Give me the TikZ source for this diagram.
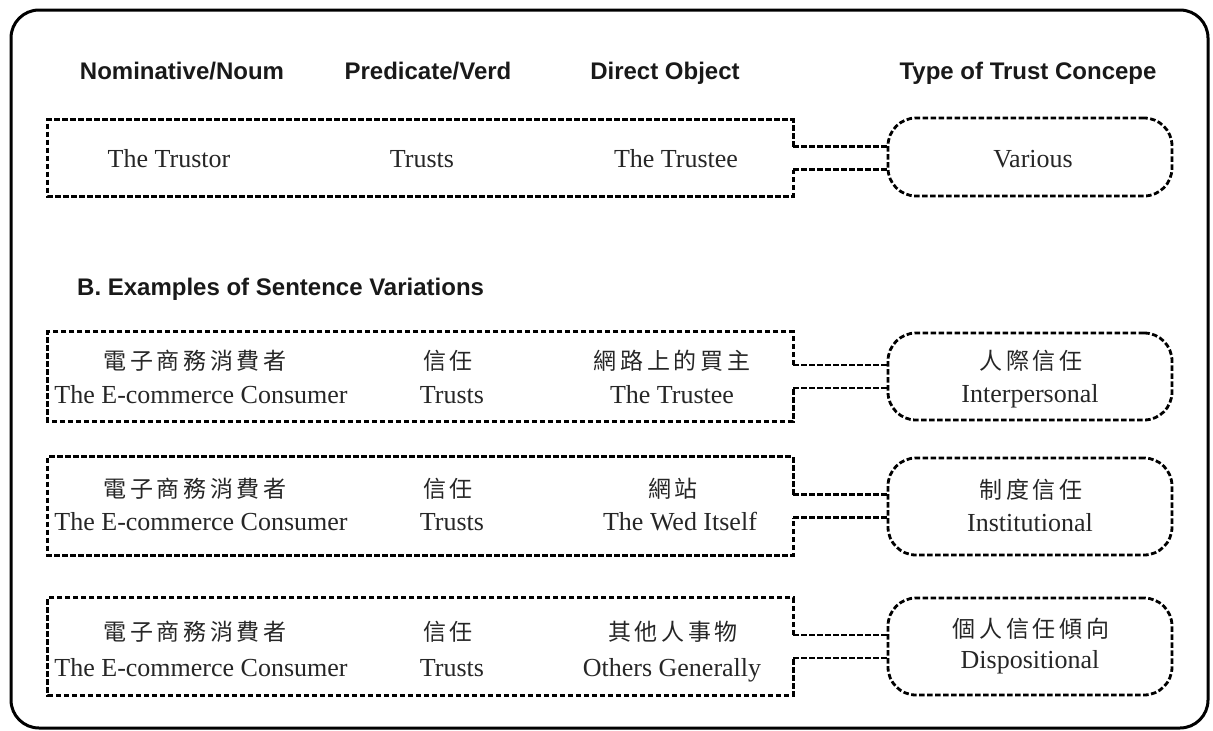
\documentclass[tikz,border=0pt]{standalone}
\usepackage{fontspec}
\setmainfont{Liberation Serif}
\newfontfamily\hdrfont{Liberation Sans}
\newfontfamily\cjk[LetterSpace=16]{Noto Sans CJK TC}
\usetikzlibrary{calc}
\begin{document}
\begin{tikzpicture}[x=1pt,y=-1pt,
  frame/.style={line width=3pt, rounded corners=28pt},
  dbox/.style={line width=2.8pt, dash pattern=on 5.5pt off 2.5pt, black},
  hdr/.style={font=\hdrfont\bfseries\fontsize{24}{28}\selectfont, anchor=base, inner sep=0, text=black!90},
  en/.style={font=\fontsize{26}{30}\selectfont, anchor=base, inner sep=0, text=black!85},
  zh/.style={font=\cjk\fontsize{23}{26}\selectfont, inner sep=0, text=black!85},
  hole/.style={inner sep=0, minimum width=745pt},
  pill/.style={dbox, draw, rounded corners=28pt, inner sep=0, minimum width=284pt},
]
\useasboundingbox (0,0) rectangle (1213,731);
\draw[frame] (11,10) rectangle (1208,728);

% headers
\node[hdr] (h1) at (182,79) {Nominative/Noum};
\node[hdr] (h2) at (428,79) {Predicate/Verd};
\node[hdr] (h3) at (665,79) {Direct Object};
\node[hdr] (h4) at (1028,79) {Type of Trust Concepe};
\node[hdr, anchor=base west] (hb) at (77,295) {B. Examples of Sentence Variations};

% boxes and connectors
\foreach \n/\yc/\h/\rc/\rh in {0/158/76/157/78, 1/376.5/89/376.5/87, 2/506/98/506.5/97, 3/646.5/97/646.5/97}{
  \node[hole, minimum height=\h pt] (L\n) at (420.5,\yc) {};
  \node[pill, minimum height=\rh pt] (R\n) at (1030,\rc) {};
  \coordinate (L\n a) at ($(L\n.east)+(0,-11.5)$);
  \coordinate (L\n b) at ($(L\n.east)+(0,11.5)$);
  \draw[dbox] (L\n a) -- (L\n.north east) -- (L\n.north west) -- (L\n.south west) -- (L\n.south east) -- (L\n b);
  \draw[dbox] (L\n a) -- (L\n a -| R\n.west);
  \draw[dbox] (L\n b) -- (L\n b -| R\n.west);
}

% row 0
\node[en] (a0) at (169,167) {The Trustor};
\node[en] (b0) at (422,167) {Trusts};
\node[en] (c0) at (676,167) {The Trustee};
\node[en] (d0) at (1033,167) {Various};

% row 1
\node[zh] (a1z) at (195,361) {電子商務消費者};
\node[en] (a1) at (201,403) {The E-commerce Consumer};
\node[zh] (b1z) at (448,361) {信任};
\node[en] (b1) at (452,403) {Trusts};
\node[zh] (c1z) at (672,361) {網路上的買主};
\node[en] (c1) at (672,403) {The Trustee};
\node[zh] (d1z) at (1031,361) {人際信任};
\node[en] (d1) at (1030,402) {Interpersonal};

% row 2
\node[zh] (a2z) at (195,489) {電子商務消費者};
\node[en] (a2) at (201,530) {The E-commerce Consumer};
\node[zh] (b2z) at (448,489) {信任};
\node[en] (b2) at (452,530) {Trusts};
\node[zh] (c2z) at (673,489) {網站};
\node[en] (c2) at (680,530) {The Wed Itself};
\node[zh] (d2z) at (1031,490) {制度信任};
\node[en] (d2) at (1030,531) {Institutional};

% row 3
\node[zh] (a3z) at (195,632) {電子商務消費者};
\node[en] (a3) at (201,676) {The E-commerce Consumer};
\node[zh] (b3z) at (448,632) {信任};
\node[en] (b3) at (452,676) {Trusts};
\node[zh] (c3z) at (673,632) {其他人事物};
\node[en] (c3) at (672,676) {Others Generally};
\node[zh] (d3z) at (1031,629) {個人信任傾向};
\node[en] (d3) at (1030,668) {Dispositional};
\end{tikzpicture}
\end{document}
